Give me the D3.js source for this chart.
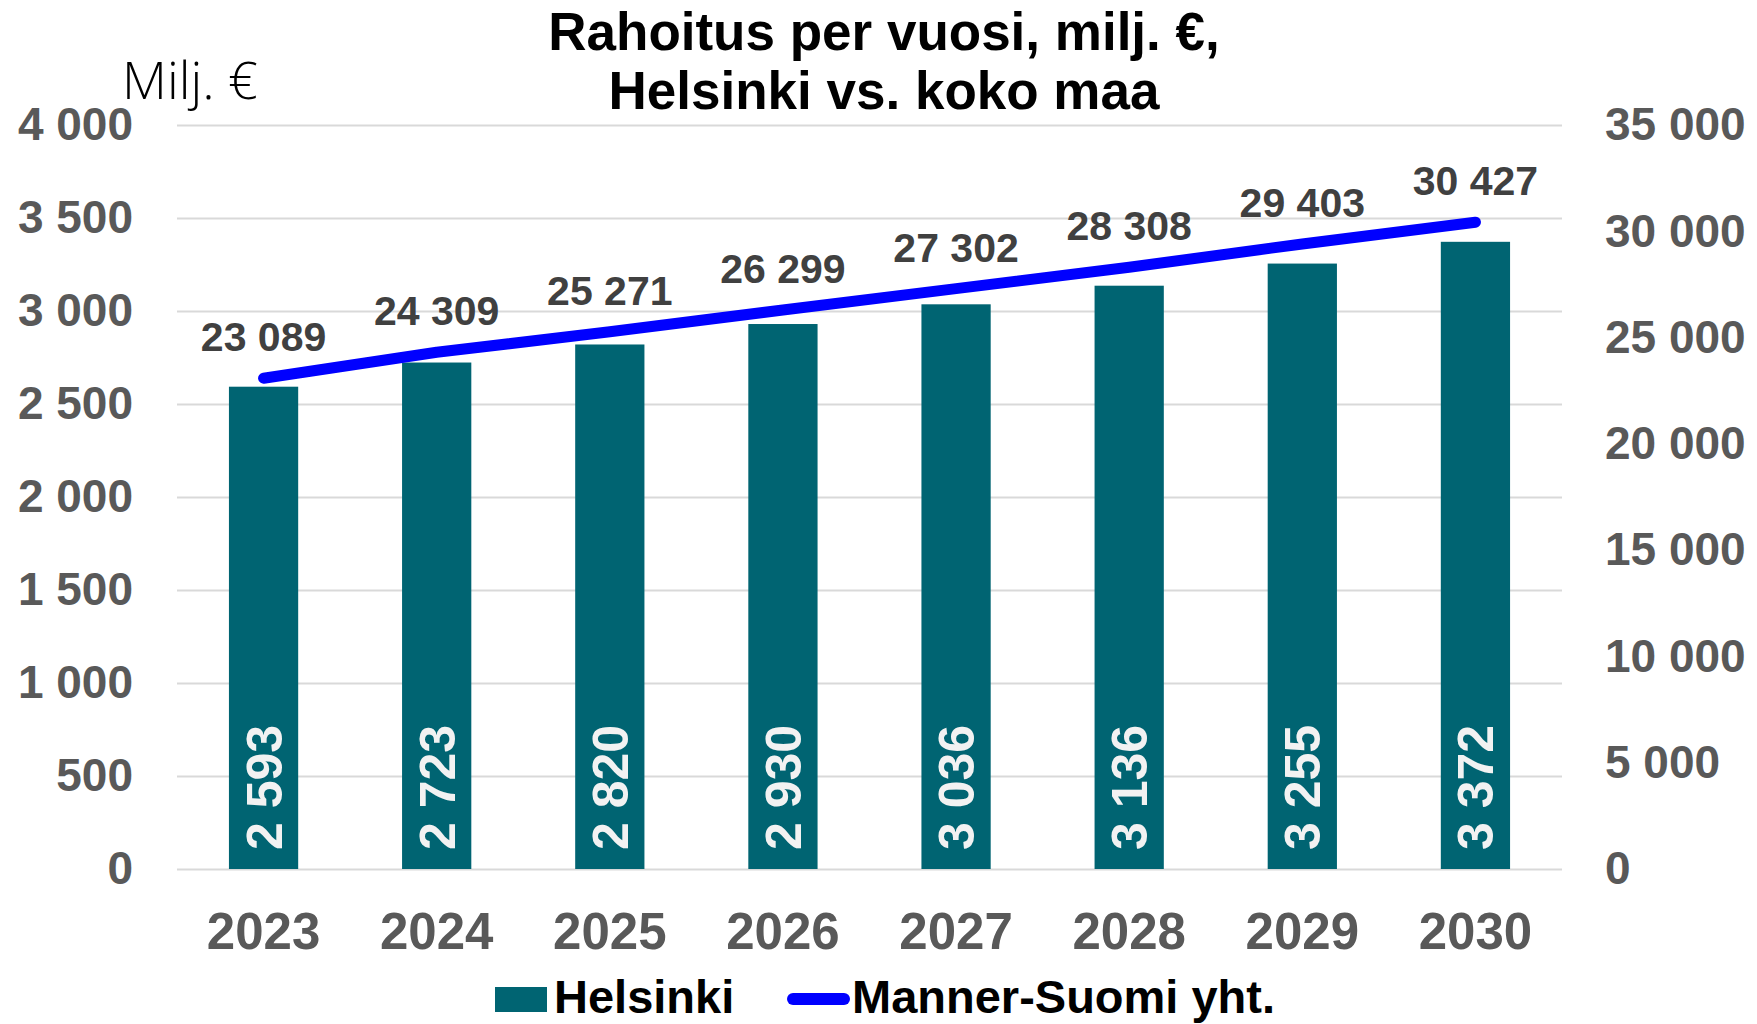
<!DOCTYPE html>
<html>
<head>
<meta charset="utf-8">
<script src="https://cdn.jsdelivr.net/npm/d3@7"></script>
<style>
  body { margin: 0; background: #fff; }
  svg { display: block; font-family: "Liberation Sans", Arial, sans-serif; }
</style>
</head>
<body>
<svg id="chart" width="1757" height="1024"></svg>
<script>
const years = ['2023', '2024', '2025', '2026', '2027', '2028', '2029', '2030'];
const helsinki = [2593, 2723, 2820, 2930, 3036, 3136, 3255, 3372];
const mannerSuomi = [23089, 24309, 25271, 26299, 27302, 28308, 29403, 30427];
const leftTicks = [0, 500, 1000, 1500, 2000, 2500, 3000, 3500, 4000];
const rightTicks = [0, 5000, 10000, 15000, 20000, 25000, 30000, 35000];
const titleLines = ['Rahoitus per vuosi, milj. €,', 'Helsinki vs. koko maa'];

const width = 1757, height = 1024;
const margin = { top: 125, right: 195, bottom: 155, left: 177 };
const barColor = '#006472';
const lineColor = '#0000ff';
const axisColor = '#595959';

const fmt = n => d3.format(',')(n).replace(/,/g, ' ');

const svg = d3.select('#chart');
svg.append('rect').attr('width', width).attr('height', height).attr('fill', '#fff');

const x = d3.scaleBand()
  .domain(years)
  .range([margin.left, width - margin.right])
  .padding(0);

const yLeft = d3.scaleLinear()
  .domain([0, 4000])
  .range([height - margin.bottom, margin.top]);

const yRight = d3.scaleLinear()
  .domain([0, 35000])
  .range([height - margin.bottom, margin.top]);

const barW = x.bandwidth() * 0.4;
const cx = d => x(d) + x.bandwidth() / 2;

// gridlines + left axis
const gLeft = svg.append('g')
  .attr('transform', `translate(${margin.left},0)`)
  .call(d3.axisLeft(yLeft).tickValues(leftTicks).tickFormat(fmt)
    .tickSize(-(width - margin.left - margin.right)).tickPadding(44));
gLeft.select('.domain').remove();
gLeft.selectAll('.tick line').attr('stroke', '#d9d9d9').attr('stroke-width', 2);
gLeft.selectAll('.tick text')
  .attr('fill', axisColor).attr('font-size', 46).attr('font-weight', 'bold');

// right axis
const gRight = svg.append('g')
  .attr('transform', `translate(${width - margin.right},0)`)
  .call(d3.axisRight(yRight).tickValues(rightTicks).tickFormat(fmt).tickSize(0).tickPadding(43));
gRight.select('.domain').remove();
gRight.selectAll('.tick text')
  .attr('fill', axisColor).attr('font-size', 46).attr('font-weight', 'bold');

// x axis labels
const gX = svg.append('g')
  .attr('transform', `translate(0,${height - margin.bottom})`)
  .call(d3.axisBottom(x).tickSize(0).tickPadding(44));
gX.select('.domain').remove();
gX.selectAll('.tick text')
  .attr('fill', axisColor).attr('font-size', 51).attr('font-weight', 'bold');

// bars
svg.append('g').selectAll('rect')
  .data(years)
  .join('rect')
  .attr('x', d => cx(d) - barW / 2)
  .attr('width', barW)
  .attr('y', (d, i) => yLeft(helsinki[i]))
  .attr('height', (d, i) => yLeft(0) - yLeft(helsinki[i]))
  .attr('fill', barColor);

// bar labels (rotated)
svg.append('g').selectAll('text')
  .data(years)
  .join('text')
  .attr('transform', d => `translate(${cx(d)},${yLeft(0) - 19}) rotate(-90)`)
  .attr('dy', '0.36em')
  .attr('text-anchor', 'start')
  .attr('fill', '#f2f2f2')
  .attr('font-size', 50)
  .attr('font-weight', 'bold')
  .text((d, i) => fmt(helsinki[i]));

// line
const line = d3.line()
  .x((d, i) => cx(years[i]))
  .y(d => yRight(d));

svg.append('path')
  .datum(mannerSuomi)
  .attr('fill', 'none')
  .attr('stroke', lineColor)
  .attr('stroke-width', 11)
  .attr('stroke-linecap', 'round')
  .attr('stroke-linejoin', 'round')
  .attr('d', line);

svg.append('g').selectAll('text')
  .data(mannerSuomi)
  .join('text')
  .attr('x', (d, i) => cx(years[i]))
  .attr('y', d => yRight(d) - 27)
  .attr('text-anchor', 'middle')
  .attr('fill', '#404040')
  .attr('font-size', 41)
  .attr('font-weight', 'bold')
  .text(d => d3.format(',')(d).replace(/,/g, ' '));

// title
svg.append('g').selectAll('text')
  .data(titleLines)
  .join('text')
  .attr('x', 884)
  .attr('y', (d, i) => 50 + i * 59)
  .attr('text-anchor', 'middle')
  .attr('fill', '#000')
  .attr('font-size', 53)
  .attr('font-weight', 'bold')
  .text(d => d);

// unit label
svg.append('text')
  .attr('x', 122)
  .attr('y', 99)
  .attr('fill', '#000')
  .attr('font-family', '"Open Sans", sans-serif')
  .attr('font-weight', 300)
  .attr('font-size', 52)
  .text('Milj. €');

// legend
const legend = svg.append('g');
legend.append('rect')
  .attr('x', 495).attr('y', 987).attr('width', 52).attr('height', 25)
  .attr('fill', barColor);
legend.append('text')
  .attr('x', 554).attr('y', 1013)
  .attr('font-size', 47).attr('font-weight', 'bold').attr('fill', '#000')
  .text('Helsinki');
legend.append('line')
  .attr('x1', 793).attr('x2', 844).attr('y1', 999).attr('y2', 999)
  .attr('stroke', lineColor).attr('stroke-width', 12).attr('stroke-linecap', 'round');
legend.append('text')
  .attr('x', 852).attr('y', 1013)
  .attr('font-size', 47).attr('font-weight', 'bold').attr('fill', '#000')
  .text('Manner-Suomi yht.');
</script>
</body>
</html>
